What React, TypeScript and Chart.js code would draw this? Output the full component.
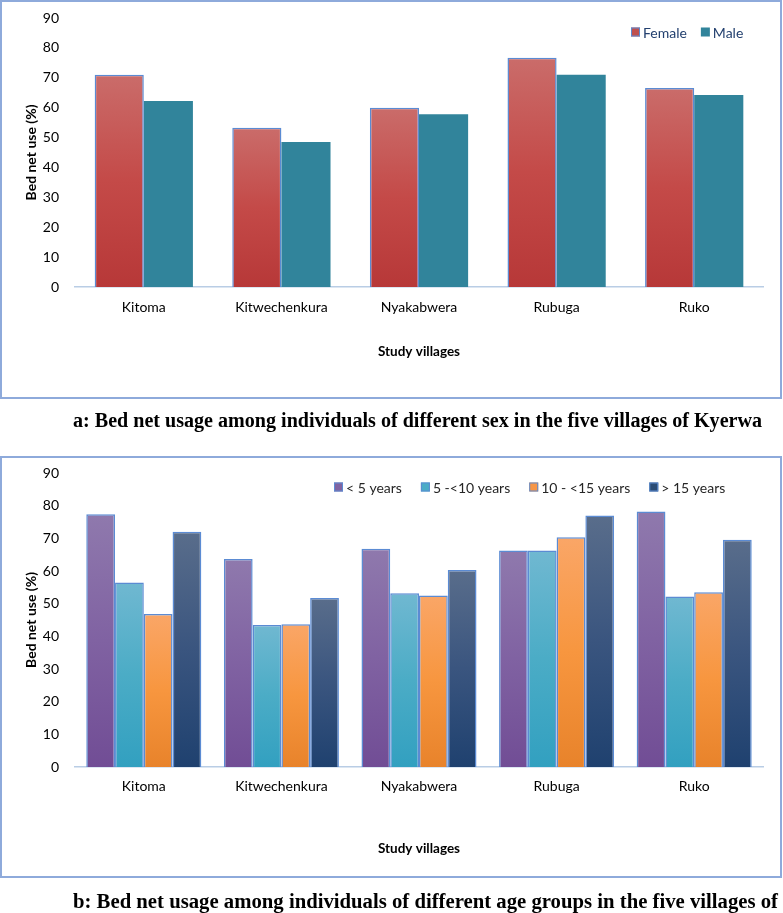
import React, { useEffect, useRef } from 'react';
import { Chart, registerables } from 'chart.js';

Chart.register(...registerables);

// ---------- data ----------
const villages = ['Kitoma', 'Kitwechenkura', 'Nyakabwera', 'Rubuga', 'Ruko'];

const sexLabels = ['Female', 'Male'];
const femaleUse = [71.0, 53.3, 60.0, 76.7, 66.6];
const maleUse = [62.2, 48.5, 57.8, 71.0, 64.2];

const ageLabels = ['< 5 years', '5 -<10 years', '10 - <15 years', '> 15 years'];
const under5Use = [77.4, 63.7, 66.8, 66.3, 78.2];
const age5to10Use = [56.5, 43.5, 53.2, 66.3, 52.2];
const age10to15Use = [46.8, 43.7, 52.5, 70.3, 53.5];
const over15Use = [72.0, 51.7, 60.3, 77.0, 69.6];

const yMin = 0;
const yMax = 90;
const yStep = 10;

const yTitle = 'Bed net use (%)';
const xTitle = 'Study villages';
const captionA = 'a: Bed net usage among individuals of different sex in the five villages of Kyerwa';
const captionB = 'b: Bed net usage among individuals of different age groups in the five villages of';

// ---------- styles ----------
const FONT = 'Lato, "Open Sans", sans-serif';
const BAR_BORDER = '#5B8BD3';

type Grad = { stops: string[]; legend: string; border: boolean };

const femaleStyle: Grad = { stops: ['#CA6C6A', '#C44A48', '#B73838'], legend: '#C0504D', border: true };
const maleStyle: Grad = { stops: ['#31849B', '#31849B'], legend: '#31849B', border: false };
const purpleStyle: Grad = { stops: ['#8F79AD', '#8062A2', '#714D95'], legend: '#8064A2', border: true };
const cyanStyle: Grad = { stops: ['#70B8D1', '#4BACC6', '#32A0C0'], legend: '#4BACC6', border: true };
const orangeStyle: Grad = { stops: ['#FAA667', '#F7963F', '#E8832B'], legend: '#F79646', border: true };
const navyStyle: Grad = { stops: ['#596D8B', '#3A557F', '#1F416F'], legend: '#2C4D75', border: true };

function gradientFill(style: Grad) {
  return (ctx: any) => {
    const chart = ctx.chart;
    if (!chart.chartArea || ctx.type !== 'data' || !ctx.parsed) return style.legend;
    const y = chart.scales.y;
    const top = y.getPixelForValue(ctx.parsed.y);
    const base = y.getPixelForValue(0);
    if (!isFinite(top) || !isFinite(base) || base - top < 1) return style.stops[0];
    const g = chart.ctx.createLinearGradient(0, top, 0, base);
    const n = style.stops.length;
    style.stops.forEach((c, i) => g.addColorStop(n === 1 ? 0 : i / (n - 1), c));
    return g;
  };
}

function makeDataset(label: string, data: number[], style: Grad) {
  return {
    label,
    data,
    backgroundColor: gradientFill(style),
    borderColor: BAR_BORDER,
    borderWidth: style.border ? 1.5 : 0,
    borderSkipped: 'bottom',
    legendColor: style.legend,
    legendBorder: style.border,
  } as any;
}

const cornerLegend = {
  id: 'cornerLegend',
  afterDraw(chart: any, _args: any, opts: any) {
    if (!opts || !opts.display) return;
    const ctx = chart.ctx;
    ctx.save();
    ctx.font = `14px ${FONT}`;
    ctx.textBaseline = 'middle';
    ctx.textAlign = 'left';
    let x = opts.x;
    const y = opts.y;
    chart.data.datasets.forEach((ds: any) => {
      const s = 9;
      ctx.fillStyle = ds.legendColor;
      ctx.fillRect(x, y - s / 2, s, s);
      if (ds.legendBorder) {
        ctx.strokeStyle = BAR_BORDER;
        ctx.lineWidth = 1;
        ctx.strokeRect(x + 0.5, y - s / 2 + 0.5, s - 1, s - 1);
      }
      x += s + 3;
      ctx.fillStyle = opts.color;
      ctx.fillText(ds.label, x, y + 1);
      x += ctx.measureText(ds.label).width + opts.gap;
    });
    ctx.restore();
  },
};

type Cfg = {
  datasets: any[];
  height: number;
  top: number;
  axisY: number;
  catPct: number;
  tickPad: number;
  xTitlePad: number;
  legend: { x: number; y: number; gap: number; color: string };
};

function buildConfig(c: Cfg): any {
  return {
    type: 'bar',
    data: { labels: villages, datasets: c.datasets },
    plugins: [cornerLegend],
    options: {
      responsive: false,
      maintainAspectRatio: false,
      animation: false,
      devicePixelRatio: 1,
      layout: { padding: { top: c.top, right: 20, left: 0, bottom: 0 } },
      datasets: { bar: { categoryPercentage: c.catPct, barPercentage: 1 } },
      plugins: {
        legend: { display: false },
        tooltip: { enabled: false },
        title: { display: false },
        cornerLegend: { display: true, ...c.legend },
      },
      scales: {
        x: {
          grid: { display: false, drawTicks: false },
          border: { display: true, color: '#B9CDE5', width: 1.5 },
          ticks: { color: '#000', font: { family: FONT, size: 14 }, padding: c.tickPad, maxRotation: 0 },
          title: {
            display: true,
            text: xTitle,
            color: '#000',
            font: { family: FONT, size: 13.5, weight: 'bold' },
            padding: { top: 0, bottom: c.xTitlePad },
          },
          afterFit: (scale: any) => {
            scale.height = c.height - c.axisY;
          },
        },
        y: {
          min: yMin,
          max: yMax,
          grid: { display: false, drawTicks: false },
          border: { display: false },
          ticks: { stepSize: yStep, color: '#000', font: { family: FONT, size: 14 }, padding: 16 },
          title: {
            display: true,
            text: yTitle,
            color: '#000',
            font: { family: FONT, size: 14, weight: 'bold' },
            padding: { top: 23, bottom: 0 },
          },
          afterFit: (scale: any) => {
            scale.width = 75;
            scale.paddingTop = 0;
            scale.paddingBottom = 0;
          },
        },
      },
    },
  };
}

const W = 783;
const HA = 400;
const HB = 422;
const TOP_B = 456;

function BarCanvas({ config, width, height }: { config: any; width: number; height: number }) {
  const ref = useRef<HTMLCanvasElement | null>(null);
  useEffect(() => {
    if (!ref.current) return;
    const chart = new Chart(ref.current, config);
    return () => chart.destroy();
  }, [config]);
  return <canvas ref={ref} width={width} height={height} style={{ display: 'block', width, height }} />;
}

const configA = buildConfig({
  datasets: [makeDataset(sexLabels[0], femaleUse, femaleStyle), makeDataset(sexLabels[1], maleUse, maleStyle)],
  height: HA,
  top: 18,
  axisY: 287,
  catPct: 0.714,
  tickPad: 11.6,
  xTitlePad: 39.8,
  legend: { x: 631, y: 32, gap: 14, color: '#23406F' },
});

const configB = buildConfig({
  datasets: [
    makeDataset(ageLabels[0], under5Use, purpleStyle),
    makeDataset(ageLabels[1], age5to10Use, cyanStyle),
    makeDataset(ageLabels[2], age10to15Use, orangeStyle),
    makeDataset(ageLabels[3], over15Use, navyStyle),
  ],
  height: HB,
  top: 17,
  axisY: 311,
  catPct: 0.836,
  tickPad: 10.6,
  xTitlePad: 20.8,
  legend: { x: 334, y: 31, gap: 19, color: '#262626' },
});

export default function App() {
  useEffect(() => {
    document.body.style.margin = '0';
    document.body.style.background = '#fff';
  }, []);

  const boxStyle = (top: number, height: number): React.CSSProperties => ({
    position: 'absolute',
    left: 0,
    top,
    width: 782,
    height,
    boxSizing: 'border-box',
    border: '2px solid #8EAADB',
    pointerEvents: 'none',
  });

  const capFont = '"Liberation Serif", "Times New Roman", serif';

  return (
    <div style={{ position: 'relative', width: W, height: 913, overflow: 'hidden', background: '#fff' }}>
      <div style={boxStyle(0, 399)} />
      <div style={{ position: 'absolute', left: 0, top: 0 }}>
        <BarCanvas config={configA} width={W} height={HA} />
      </div>
      <div style={boxStyle(TOP_B, HB)} />
      <div style={{ position: 'absolute', left: 0, top: TOP_B }}>
        <BarCanvas config={configB} width={W} height={HB} />
      </div>
      <svg
        width={W}
        height={913}
        style={{ position: 'absolute', left: 0, top: 0, pointerEvents: 'none' }}
      >
        <text
          x={73}
          y={427}
          fontFamily={capFont}
          fontWeight="bold"
          fontSize={20}
          fill="#000"
          textLength={689}
          lengthAdjust="spacingAndGlyphs"
        >
          {captionA}
        </text>
        <text
          x={73}
          y={908}
          fontFamily={capFont}
          fontWeight="bold"
          fontSize={20}
          fill="#000"
          textLength={705}
          lengthAdjust="spacingAndGlyphs"
        >
          {captionB}
        </text>
      </svg>
    </div>
  );
}
